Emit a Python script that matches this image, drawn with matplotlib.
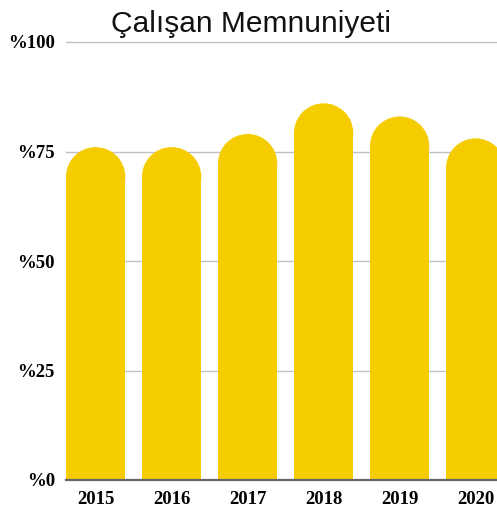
import matplotlib
matplotlib.use("Agg")
import matplotlib.pyplot as plt
from matplotlib.patches import Ellipse

years = ["2015", "2016", "2017", "2018", "2019", "2020"]
values = [76, 76, 79, 86, 83, 78]
yticks = [0, 25, 50, 75, 100]
ytick_labels = ["%0", "%25", "%50", "%75", "%100"]
title = "Çalışan Memnuniyeti"

W, H = 497, 508
fig = plt.figure(figsize=(W / 100, H / 100), dpi=100)
ax = fig.add_axes([66 / W, 28 / H, 1 - 66 / W, 438 / H])

color = "#F4CC00"
bw = 0.78
xlim = (-bw / 2, -bw / 2 + 431 / 76)
ax.set_xlim(*xlim)
ax.set_ylim(0, 100)

# radius of the rounded cap in data units (semicircle in pixels)
ax_w_px = ax.get_position().width * W
ax_h_px = ax.get_position().height * H
rx = bw / 2
r_px = rx * ax_w_px / (xlim[1] - xlim[0])
ry = r_px * 100 / ax_h_px

x = list(range(len(years)))
ax.bar(x, [v - ry for v in values], width=bw, color=color, zorder=3, linewidth=0)
for xi, v in zip(x, values):
    ax.add_patch(Ellipse((xi, v - ry), bw, 2 * ry, color=color, zorder=3, linewidth=0))

for t in yticks[1:]:
    ax.axhline(t, color="#c0c0c0", lw=1.0, zorder=1, clip_on=False)
ax.axhline(0, color="#666666", lw=1.6, zorder=4, clip_on=False)

for s in ax.spines.values():
    s.set_visible(False)
ax.set_xticks(x)
ax.set_xticklabels(years, fontfamily="Liberation Serif", fontweight="bold", fontsize=13.5)
ax.set_yticks(yticks)
ax.set_yticklabels(ytick_labels, fontfamily="Liberation Serif", fontweight="bold", fontsize=13.5)
ax.tick_params(axis="both", length=0)
ax.tick_params(axis="y", pad=8)
ax.tick_params(axis="x", pad=8)

fig.text(0.505, 1 - 32 / H, title, ha="center", va="baseline",
         fontfamily="Liberation Sans", fontsize=21.5, color="#111111")

fig.savefig("out.png", dpi=100)
